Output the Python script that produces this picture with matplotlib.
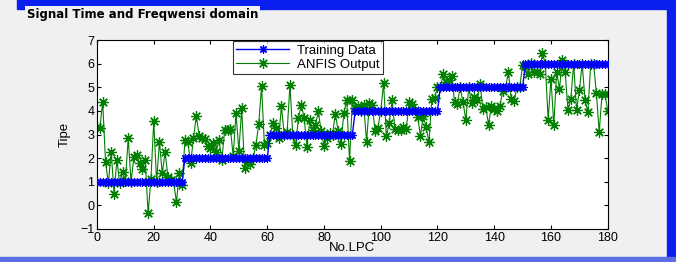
import matplotlib
matplotlib.use("Agg")
import matplotlib.pyplot as plt
from matplotlib.patches import Rectangle

plt.rcParams["font.family"] = ["Liberation Sans", "DejaVu Sans"]

# No.LPC index
x = list(range(0, 181))

# target classes (step levels)
train = [1] * 31 + [2] * 30 + [3] * 30 + [4] * 30 + [5] * 30 + [6] * 30

# ANFIS output
anfis = [
    3.30, 3.26, 4.39, 1.85, 0.93, 2.27, 0.50, 1.92, 0.93, 1.42,
    1.05, 2.84, 1.00, 2.06, 2.13, 1.78, 1.56, 1.92, -0.34, 1.10,
    3.57, 1.00, 2.70, 1.35, 2.27, 1.20, 1.08, 1.00, 0.14, 1.36,
    0.87, 2.78, 2.70, 1.79, 2.85, 3.79, 2.95, 2.85, 2.80, 2.50,
    2.42, 2.64, 2.28, 2.78, 1.93, 3.20, 3.20, 3.25, 2.10, 3.90,
    2.30, 4.12, 1.58, 1.85, 1.75, 2.00, 2.56, 3.45, 5.04, 2.56,
    2.64, 2.99, 3.48, 3.27, 2.85, 4.19, 2.99, 3.10, 5.10, 2.99,
    2.56, 3.70, 4.26, 3.70, 2.49, 3.62, 3.20, 3.41, 3.99, 3.14,
    2.50, 2.86, 3.07, 3.00, 3.89, 3.14, 2.62, 3.92, 4.45, 1.87,
    4.48, 4.13, 4.20, 4.00, 4.27, 2.68, 4.34, 4.27, 3.14, 3.28,
    4.00, 5.19, 2.93, 3.50, 4.45, 3.25, 3.18, 3.18, 3.32, 3.25,
    4.38, 4.31, 4.03, 3.75, 2.95, 3.80, 3.30, 2.67, 4.50, 4.55,
    5.02, 5.02, 5.55, 5.23, 5.30, 5.50, 4.38, 4.31, 5.00, 4.36,
    3.62, 5.00, 4.32, 4.60, 4.46, 5.14, 4.08, 4.15, 3.42, 4.22,
    4.08, 4.01, 4.20, 4.86, 5.00, 5.64, 4.51, 4.44, 5.00, 5.00,
    5.96, 5.92, 5.56, 6.02, 5.64, 5.65, 5.58, 6.45, 6.00, 3.63,
    5.36, 3.39, 5.65, 4.94, 6.14, 5.65, 4.02, 4.52, 6.00, 4.02,
    4.87, 6.00, 4.47, 3.95, 6.00, 6.00, 4.76, 3.10, 4.73, 4.73,
    4.00,
]

xticks = list(range(0, 181, 20))
yticks = list(range(-1, 8))

fig = plt.figure(figsize=(6.76, 2.62), dpi=100, facecolor="#f0f0f0")

# window frame decoration (blue borders + panel title)
blue = "#0a1ef0"
fig.patches.append(Rectangle((0.025, 0.965), 0.975, 0.035, transform=fig.transFigure, color=blue, zorder=0))
fig.patches.append(Rectangle((0.986, 0.0), 0.014, 1.0, transform=fig.transFigure, color=blue, zorder=0))
fig.patches.append(Rectangle((0.0, 0.0), 1.0, 0.018, transform=fig.transFigure, color="#5a6ee6", zorder=0))
fig.text(0.04, 0.945, "Signal Time and Freqwensi domain", fontsize=8.5, weight="bold",
         va="center", ha="left", family="DejaVu Sans",
         bbox=dict(boxstyle="square,pad=0.15", fc="#f0f0f0", ec="none"))

star = (8, 2, 0)  # asterisk, like matlab '*'
ax = fig.add_axes([0.1435, 0.126, 0.7555, 0.721])
ax.plot(x, train, "-", marker=star, color="#0000ff", lw=1, ms=6, mew=0.9,
        label="Training Data", zorder=3)
ax.plot(x, anfis, "-", marker=star, color="#007f00", lw=0.8, ms=7.5, mew=0.9,
        label="ANFIS Output", zorder=2)

ax.set_xlim(0, 180)
ax.set_ylim(-1, 7)
ax.set_xticks(xticks)
ax.set_yticks(yticks)
ax.tick_params(direction="in", top=True, right=True, labelsize=9, length=3, pad=2)
ax.set_xlabel("No.LPC", fontsize=9.5, labelpad=-1)
ax.set_ylabel("Tipe", fontsize=9.5, labelpad=7)

leg = ax.legend(loc="upper left", bbox_to_anchor=(0.266, 0.995), fontsize=9.5,
                frameon=True, fancybox=False, borderpad=0.25, handlelength=4.0,
                labelspacing=0.15, borderaxespad=0.0, handletextpad=0.6)
leg.get_frame().set_edgecolor("black")
leg.get_frame().set_linewidth(0.8)

fig.savefig("out.png", dpi=100, facecolor=fig.get_facecolor())
